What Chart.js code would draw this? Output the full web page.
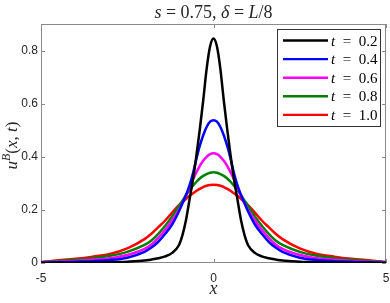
<!DOCTYPE html>
<html>
<head>
<meta charset="utf-8">
<script src="https://cdn.jsdelivr.net/npm/chart.js"></script>
<style>
  html, body { margin: 0; padding: 0; background: #fff; }
  #wrap { width: 390px; height: 303px; }
</style>
</head>
<body>
<div id="wrap"><canvas id="myChart" width="390" height="303"></canvas></div>
<script>
// x positions of the sampled points
const xValues = [-5, -4.5, -4, -3.5, -3, -2.5, -2, -1.8, -1.6, -1.4, -1.2, -1, -0.9, -0.8, -0.7, -0.6, -0.5, -0.4, -0.3, -0.2, -0.1,
    0, 0.1, 0.2, 0.3, 0.4, 0.5, 0.6, 0.7, 0.8, 0.9, 1, 1.2, 1.4, 1.6, 1.8, 2, 2.5, 3, 3.5, 4, 4.5, 5];

// u^B(x,t) for each t
const uT02 = [0, 0.0005, 0.001, 0.002, 0.003, 0.005, 0.009, 0.013, 0.018, 0.025, 0.038, 0.068, 0.105, 0.16, 0.235, 0.31, 0.40, 0.50, 0.61, 0.73, 0.815,
    0.845, 0.815, 0.73, 0.61, 0.50, 0.40, 0.31, 0.235, 0.16, 0.105, 0.068, 0.038, 0.025, 0.018, 0.013, 0.009, 0.005, 0.003, 0.002, 0.001, 0.0005, 0];
const uT04 = [0.001, 0.003, 0.005, 0.007, 0.011, 0.02, 0.042, 0.058, 0.08, 0.11, 0.145, 0.195, 0.225, 0.255, 0.29, 0.335, 0.39, 0.44, 0.48, 0.512, 0.532,
    0.538, 0.532, 0.512, 0.48, 0.44, 0.39, 0.335, 0.29, 0.255, 0.225, 0.195, 0.145, 0.11, 0.08, 0.058, 0.042, 0.02, 0.011, 0.007, 0.005, 0.003, 0.001];
const uT06 = [0.002, 0.005, 0.008, 0.012, 0.018, 0.03, 0.053, 0.07, 0.095, 0.125, 0.16, 0.2, 0.225, 0.252, 0.282, 0.313, 0.34, 0.365, 0.385, 0.40, 0.41,
    0.413, 0.41, 0.40, 0.385, 0.365, 0.34, 0.313, 0.282, 0.252, 0.225, 0.2, 0.16, 0.125, 0.095, 0.07, 0.053, 0.03, 0.018, 0.012, 0.008, 0.005, 0.002];
const uT08 = [0.003, 0.008, 0.012, 0.018, 0.027, 0.042, 0.068, 0.085, 0.11, 0.14, 0.175, 0.215, 0.235, 0.255, 0.273, 0.29, 0.305, 0.318, 0.328, 0.335, 0.34,
    0.342, 0.34, 0.335, 0.328, 0.318, 0.305, 0.29, 0.273, 0.255, 0.235, 0.215, 0.175, 0.14, 0.11, 0.085, 0.068, 0.042, 0.027, 0.018, 0.012, 0.008, 0.003];
const uT10 = [0.004, 0.01, 0.016, 0.024, 0.034, 0.055, 0.09, 0.11, 0.135, 0.16, 0.19, 0.218, 0.23, 0.241, 0.252, 0.262, 0.271, 0.279, 0.286, 0.291, 0.294,
    0.295, 0.294, 0.291, 0.286, 0.279, 0.271, 0.262, 0.252, 0.241, 0.23, 0.218, 0.19, 0.16, 0.135, 0.11, 0.09, 0.055, 0.034, 0.024, 0.016, 0.01, 0.004];

const seriesLabels = ['0.2', '0.4', '0.6', '0.8', '1.0'];
const seriesValues = [uT02, uT04, uT06, uT08, uT10];
const seriesColors = ['#000000', '#0000ff', '#ff00ff', '#008000', '#ff0000'];

// tick labels
const xTicks = [-5, 0, 5];
const yTicks = [0, 0.2, 0.4, 0.6, 0.8];

const SERIF = '"Liberation Serif", "DejaVu Serif", serif';
const SANS = '"Liberation Sans", Arial, sans-serif';

// math-like text: parts are [text, italic, superscript]
function drawMath(ctx, parts, x, y, size, align) {
    const fontOf = (p) => (p[1] ? 'italic ' : '') + (p[2] ? size * 0.7 : size) + 'px ' + SERIF;
    let total = 0;
    parts.forEach(p => { ctx.font = fontOf(p); total += ctx.measureText(p[0]).width; });
    let cx = align === 'left' ? x : x - total / 2;
    ctx.textAlign = 'left';
    ctx.textBaseline = 'alphabetic';
    parts.forEach(p => {
        ctx.font = fontOf(p);
        ctx.fillText(p[0], cx, p[2] ? y - size * 0.42 : y);
        cx += ctx.measureText(p[0]).width;
    });
}

// box around the axes with inward ticks (MATLAB style)
const framePlugin = {
    id: 'frame',
    beforeDatasetsDraw(chart) {
        const { ctx, chartArea: a, scales } = chart;
        ctx.save();
        ctx.strokeStyle = '#8a8a8a';
        ctx.lineWidth = 1;
        ctx.strokeRect(a.left + 0.5, a.top + 0.5, a.right - a.left - 1, a.bottom - a.top - 1);
        ctx.beginPath();
        xTicks.forEach(v => {
            const px = Math.round(scales.x.getPixelForValue(v)) + 0.5;
            ctx.moveTo(px, a.bottom); ctx.lineTo(px, a.bottom - 4);
            ctx.moveTo(px, a.top); ctx.lineTo(px, a.top + 4);
        });
        yTicks.forEach(v => {
            const py = Math.round(scales.y.getPixelForValue(v)) + 0.5;
            ctx.moveTo(a.left, py); ctx.lineTo(a.left + 4, py);
            ctx.moveTo(a.right, py); ctx.lineTo(a.right - 4, py);
        });
        ctx.stroke();
        ctx.restore();
    },
    afterDraw(chart) {
        const { ctx, chartArea: a } = chart;
        const midX = (a.left + a.right) / 2;
        ctx.save();
        ctx.fillStyle = '#262626';

        // title
        drawMath(ctx, [['s', true], [' = 0.75, ', false], ['δ', true], [' = ', false], ['L', true], ['/8', false]], midX, 18, 18);

        // x label
        drawMath(ctx, [['x', true]], midX, 294, 18);

        // y label
        ctx.save();
        ctx.translate(17, (a.top + a.bottom) / 2 + 2);
        ctx.rotate(-Math.PI / 2);
        drawMath(ctx, [['u', true], ['B', true, true], ['(', false], ['x', true], [', ', false], ['t', true], [')', false]], 0, 0, 17);
        ctx.restore();

        // legend box
        const lx = 277, ly = 29, lw = 103, lh = 97;
        ctx.fillStyle = '#ffffff';
        ctx.fillRect(lx, ly, lw, lh);
        ctx.strokeStyle = '#333333';
        ctx.lineWidth = 1;
        ctx.strokeRect(lx + 0.5, ly + 0.5, lw, lh);
        chart.data.datasets.forEach((ds, i) => {
            const ry = ly + 11.5 + i * 18.6;
            ctx.strokeStyle = ds.borderColor;
            ctx.lineWidth = 2.4;
            ctx.beginPath();
            ctx.moveTo(lx + 6, ry); ctx.lineTo(lx + 51, ry);
            ctx.stroke();
            ctx.fillStyle = '#000000';
            drawMath(ctx, [['t', true], ['  =  ' + seriesLabels[i], false]], lx + 54, ry + 5, 15, 'left');
        });
        ctx.restore();
    }
};

const datasets = seriesValues.map((vals, i) => ({
    label: 't = ' + seriesLabels[i],
    data: xValues.map((x, j) => ({ x: x, y: vals[j] })),
    borderColor: seriesColors[i],
    backgroundColor: seriesColors[i],
    borderWidth: 2.5,
    pointRadius: 0,
    cubicInterpolationMode: 'monotone',
    fill: false
}));

const ctx = document.getElementById('myChart').getContext('2d');
new Chart(ctx, {
    type: 'line',
    data: { datasets: datasets },
    options: {
        responsive: false,
        animation: false,
        devicePixelRatio: 1,
        layout: { padding: { top: 24, right: 4, left: 0, bottom: 0 } },
        plugins: {
            legend: { display: false },
            title: { display: false },
            tooltip: { enabled: false }
        },
        scales: {
            x: {
                type: 'linear',
                min: -5,
                max: 5,
                grid: { display: false, drawTicks: false },
                border: { display: false },
                afterBuildTicks: (s) => { s.ticks = xTicks.map(v => ({ value: v })); },
                afterFit: (s) => { s.height = 40; s.paddingLeft = 0; s.paddingRight = 0; },
                ticks: {
                    color: '#262626',
                    font: { family: SANS, size: 12 },
                    padding: 8,
                    maxRotation: 0,
                    autoSkip: false,
                    callback: (v) => String(v)
                }
            },
            y: {
                type: 'linear',
                min: 0,
                max: 0.9,
                grid: { display: false, drawTicks: false },
                border: { display: false },
                afterBuildTicks: (s) => { s.ticks = yTicks.map(v => ({ value: v })); },
                afterFit: (s) => { s.width = 41; s.paddingTop = 0; s.paddingBottom = 0; },
                ticks: {
                    color: '#262626',
                    font: { family: SANS, size: 12 },
                    padding: 3,
                    autoSkip: false,
                    callback: (v) => String(v)
                }
            }
        }
    },
    plugins: [framePlugin]
});
</script>
</body>
</html>
